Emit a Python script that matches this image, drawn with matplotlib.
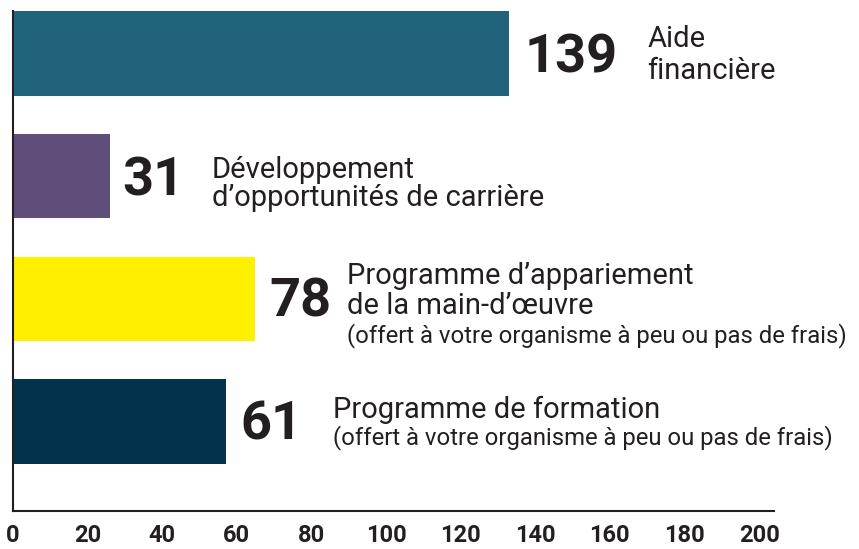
#-----------------------------------------------------------------

# Horizontal bar chart: types of support (counts)

#------------------------------------------------------------------

import matplotlib
matplotlib.use('Agg')
import matplotlib.pyplot as plt

#============= Data =============

counts = [139, 31, 78, 61]
# bar lengths as drawn against the x axis in the source (shorter than the labels)
bar_length = [133, 26, 65, 57]
label_lines = [
    ['Aide', 'financière'],
    ['Développement', 'd’opportunités de carrière'],
    ['Programme d’appariement', 'de la main-d’œuvre'],
    ['Programme de formation'],
]
notes = [
    '',
    '',
    '(offert à votre organisme à peu ou pas de frais)',
    '(offert à votre organisme à peu ou pas de frais)',
]
colors = ['#21637a', '#5f4d7a', '#fff000', '#03334c']
x_ticks = [0, 20, 40, 60, 80, 100, 120, 140, 160, 180, 200]

#============= Layout (pixels) =============

ink = '#231f20'
num_dx = [15, 12, 14, 15]
num_dy = [-19.5, -19.5, -17.5, -17.5]
text_dx = [138, 102, 92, 107]
line_dy = [[6.5, -25.5], [-1.5, -29.5], [14.5, -15.5], [3.5]]
note_dy = [None, None, -43.5, -22.5]

plt.rcParams['font.family'] = ['Roboto', 'DejaVu Sans']

fig = plt.figure(figsize=(8.59, 5.49), dpi=100)
ax = fig.add_axes([13 / 859, 38 / 549, 761 / 859, 500 / 549])

ypos = [3, 2, 1, 0]
ax.barh(ypos, bar_length, height=0.69, color=colors, zorder=2)

for i, y in enumerate(ypos):
    ax.annotate(str(counts[i]), xy=(bar_length[i], y),
                xytext=(num_dx[i], num_dy[i]), textcoords='offset pixels',
                ha='left', va='baseline', fontsize=39, fontweight='bold',
                color=ink)
    for line, dy in zip(label_lines[i], line_dy[i]):
        ax.annotate(line, xy=(bar_length[i], y),
                    xytext=(text_dx[i], dy), textcoords='offset pixels',
                    ha='left', va='baseline', fontsize=21,
                    fontweight='normal', color=ink)
    if notes[i]:
        ax.annotate(notes[i], xy=(bar_length[i], y),
                    xytext=(text_dx[i], note_dy[i]), textcoords='offset pixels',
                    ha='left', va='baseline', fontsize=17.2,
                    fontweight='normal', color=ink)

ax.set_xlim(0, 204)
ax.set_ylim(-0.728, 3.345)
ax.set_xticks(x_ticks)
ax.set_xticklabels([str(t) for t in x_ticks], fontsize=17, fontweight='bold',
                   color=ink)
ax.set_yticks([])
ax.tick_params(axis='x', length=0, pad=9)

for side in ['top', 'right']:
    ax.spines[side].set_visible(False)
for side in ['left', 'bottom']:
    ax.spines[side].set_linewidth(1.5)
    ax.spines[side].set_color(ink)

fig.savefig('out.png', dpi=100)
